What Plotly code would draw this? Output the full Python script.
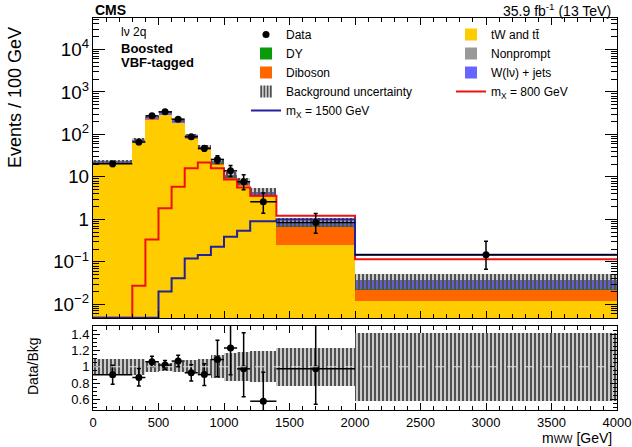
import numpy as np
import plotly.graph_objects as go
from plotly.subplots import make_subplots

# ---------------- data ----------------
edges = [0, 300, 400, 500, 600, 700, 800, 900, 1000, 1100, 1200, 1400, 2000, 4000]

tw_tt     = [21.0, 67.0, 225.0, 290.0, 186.0, 82.0, 44.0, 20.0, 9.3, 6.3, 3.3, 0.25, 0.012]
diboson   = [0.3, 1.5, 6.0, 8.0, 6.0, 3.0, 2.0, 1.0, 0.6, 0.5, 0.5, 0.42, 0.0105]
nonprompt = [0.2, 0.5, 1.0, 1.0, 0.6, 0.3, 0.2, 0.1, 0.05, 0.03, 0.02, 0.01, 0.0005]
dy        = [0.7, 1.0, 1.5, 1.5, 1.0, 0.5, 0.3, 0.1, 0.05, 0.03, 0.02, 0.005, 0.0003]
wjets     = [0.3, 6.0, 24.5, 32.5, 20.4, 9.2, 5.5, 2.5, 1.3, 1.04, 0.66, 0.185, 0.014]

bkg_rel_unc = [0.10, 0.095, 0.07, 0.05, 0.06, 0.08, 0.09, 0.14, 0.17, 0.18, 0.19, 0.235, 0.42]

data        = [20.3, 66.0, 274.0, 340.0, 229.0, 88.0, 47.0, 25.8, 13.9, 7.7, 2.6, 0.85, 0.147]
data_err_up = [2.6, 8.5, 17.0, 18.5, 15.0, 9.5, 7.0, 5.6, 4.6, 3.5, 1.6, 0.53, 0.16]
data_err_dn = [2.6, 8.0, 16.0, 18.0, 15.0, 9.5, 7.0, 5.0, 3.7, 2.7, 1.2, 0.38, 0.08]

sig_800  = [0.0, 0.0274, 0.339, 1.82, 5.85, 15.9, 21.9, 15.9, 8.7, 5.66, 3.6, 1.22, 0.115]
sig_1500 = [0.0, 0.0, 0.0, 0.02, 0.041, 0.12, 0.145, 0.227, 0.39, 0.54, 0.9, 1.0, 0.147]

x_ticks = [0, 500, 1000, 1500, 2000, 2500, 3000, 3500, 4000]
ratio_ticks = [0.6, 0.8, 1.0, 1.2, 1.4]
ratio_ref = 1.0

# ---------------- styling ----------------
FONT = "Liberation Sans, Arial, Helvetica, sans-serif"
C_TT = "#FFCC00"
C_DY = "#0A9A0A"
C_VV = "#FF6600"
C_NP = "#999999"
C_WJ = "#6666FF"
C_SIG800 = "#EE1111"
C_SIG1500 = "#22229A"

main_range = [-2.32, 4.74]
ratio_range = [0.47, 1.5]

e = np.array(edges, dtype=float)
centers = 0.5 * (e[1:] + e[:-1])
widths = e[1:] - e[:-1]

fig = make_subplots(rows=2, cols=1, shared_xaxes=False)

# stacked backgrounds (bottom -> top)
components = [
    ("tW and tt\u0304", tw_tt, C_TT, "legend2", 1),
    ("Diboson", diboson, C_VV, "legend", 3),
    ("Nonprompt", nonprompt, C_NP, "legend2", 2),
    ("DY", dy, C_DY, "legend", 2),
    ("W(l\u03bd) + jets", wjets, C_WJ, "legend2", 3),
]
cum = np.zeros(len(centers))
floor = 10 ** (main_range[0] - 1)
for name, vals, col, leg, rank in components:
    v = np.array(vals, dtype=float)
    base = np.where(cum > 0, cum, floor)
    top = cum + v
    fig.add_trace(go.Bar(x=centers, y=top - base, base=base, width=widths,
                         marker=dict(color=col, line=dict(width=0)),
                         name=name, legend=leg, legendrank=rank,
                         showlegend=True), row=1, col=1)
    cum = top

total = cum
rel = np.array(bkg_rel_unc)
band_pattern = dict(shape="|", fgcolor="#505050", bgcolor="rgba(0,0,0,0)",
                    size=4, solidity=0.65, fillmode="overlay", fgopacity=1)
fig.add_trace(go.Bar(x=centers, y=2 * rel * total, base=total * (1 - rel), width=widths,
                     marker=dict(color="rgba(0,0,0,0)", line=dict(width=0), pattern=band_pattern),
                     name="Background uncertainty", legend="legend", legendrank=4),
              row=1, col=1)

# signal step lines
ymin = 10 ** main_range[0]
for name, vals, col, leg, rank in [
    ("m<sub>X</sub> = 800 GeV", sig_800, C_SIG800, "legend2", 4),
    ("m<sub>X</sub> = 1500 GeV", sig_1500, C_SIG1500, "legend", 5),
]:
    v = np.maximum(np.array(vals, dtype=float), ymin * 1.02)
    fig.add_trace(go.Scatter(x=e, y=np.append(v, v[-1]), mode="lines",
                             line=dict(color=col, width=2, shape="hv"),
                             name=name, legend=leg, legendrank=rank), row=1, col=1)

# data
d = np.array(data)
fig.add_trace(go.Scatter(x=centers, y=d, mode="markers",
                         marker=dict(color="black", size=7),
                         error_x=dict(type="data", array=widths / 2, color="black", thickness=1.5, width=0),
                         error_y=dict(type="data", symmetric=False, array=data_err_up,
                                      arrayminus=data_err_dn, color="black", thickness=1.5, width=2),
                         name="Data", legend="legend", legendrank=1), row=1, col=1)

# ratio panel
fig.add_trace(go.Bar(x=centers, y=2 * rel, base=1 - rel, width=widths,
                     marker=dict(color="rgba(0,0,0,0)", line=dict(width=0), pattern=band_pattern),
                     showlegend=False), row=2, col=1)
ratio = d / total
fig.add_trace(go.Scatter(x=centers, y=ratio, mode="markers",
                         marker=dict(color="black", size=7),
                         error_x=dict(type="data", array=widths / 2, color="black", thickness=1.5, width=0),
                         error_y=dict(type="data", symmetric=False, array=np.array(data_err_up) / total,
                                      arrayminus=np.array(data_err_dn) / total, color="black",
                                      thickness=1.5, width=2),
                         showlegend=False), row=2, col=1)
fig.add_shape(type="line", xref="x2", yref="y2", x0=edges[0], x1=edges[-1], y0=ratio_ref, y1=ratio_ref,
              line=dict(color="#dddddd", width=1, dash="dash"), layer="above")

axis_common = dict(showline=True, linecolor="black", linewidth=1, mirror="allticks",
                   ticks="inside", tickcolor="black", showgrid=False, zeroline=False)

fig.update_xaxes(range=[edges[0], edges[-1]], tickvals=x_ticks, ticklen=7,
                 minor=dict(ticks="inside", dtick=100, ticklen=4, tickcolor="black", showgrid=False),
                 **axis_common)
fig.update_xaxes(showticklabels=False, row=1, col=1)
fig.update_xaxes(showticklabels=True, tickfont=dict(size=13, family=FONT, color="black"), row=2, col=1)

fig.update_yaxes(type="log", range=main_range, dtick=1, exponentformat="power", ticklen=12,
                 tickfont=dict(size=15, family=FONT, color="black"),
                 minor=dict(ticks="inside", ticklen=6, tickcolor="black", showgrid=False),
                 row=1, col=1, **axis_common)
fig.update_yaxes(range=ratio_range, tickvals=ratio_ticks, ticktext=["0.6", "0.8", "1", "1.2", "1.4"],
                 ticklen=7, tickfont=dict(size=13, family=FONT, color="black"),
                 minor=dict(ticks="inside", dtick=0.05, ticklen=4, tickcolor="black", showgrid=False),
                 row=2, col=1, **axis_common)

W, H = 632, 447
ml, mr, mt, mb = 93, 15, 18, 37
ph = H - mt - mb
pw = W - ml - mr


def py(pix):
    return (H - mb - pix) / ph


def px(pix):
    return (pix - ml) / pw


fig.update_layout(
    width=W, height=H,
    margin=dict(l=ml, r=mr, t=mt, b=mb, autoexpand=False),
    paper_bgcolor="white", plot_bgcolor="white",
    barmode="overlay", bargap=0,
    font=dict(family=FONT, color="black"),
    xaxis=dict(domain=[0, 1], anchor="y"),
    yaxis=dict(domain=[py(318), 1]),
    xaxis2=dict(domain=[0, 1], anchor="y2", matches="x"),
    yaxis2=dict(domain=[0, py(326)]),
    legend=dict(x=px(246), y=py(20), xanchor="left", yanchor="top", bgcolor="rgba(0,0,0,0)",
                font=dict(size=12, family=FONT), traceorder="normal", tracegroupgap=0,
                itemclick=False),
    legend2=dict(x=px(451), y=py(20), xanchor="left", yanchor="top", bgcolor="rgba(0,0,0,0)",
                 font=dict(size=12, family=FONT), traceorder="normal", tracegroupgap=0,
                 itemclick=False),
    showlegend=True,
)

annots = [
    dict(text="<b>CMS</b>", x=0, y=py(10), xanchor="left", yanchor="middle", font=dict(size=14)),
    dict(text="35.9 fb<sup>-1</sup> (13 TeV)", x=px(613), y=py(10), xanchor="right", yanchor="middle",
         font=dict(size=14)),
    dict(text="l\u03bd 2q", x=px(119), y=py(32), xanchor="left", yanchor="middle", font=dict(size=12)),
    dict(text="<b>Boosted</b>", x=px(119), y=py(48), xanchor="left", yanchor="middle", font=dict(size=13)),
    dict(text="<b>VBF-tagged</b>", x=px(119), y=py(63), xanchor="left", yanchor="middle", font=dict(size=13)),
    dict(text="Events / 100 GeV", x=px(15), y=py(98), xanchor="center", yanchor="middle", textangle=-90,
         font=dict(size=18)),
    dict(text="Data/Bkg", x=px(33), y=py(366), xanchor="center", yanchor="middle", textangle=-90,
         font=dict(size=14)),
    dict(text="m<span style='font-size:10px'>WW</span> [GeV]", x=px(613), y=py(447),
         xanchor="right", yanchor="bottom", font=dict(size=14), borderpad=0),
]
for a in annots:
    a.update(xref="paper", yref="paper", showarrow=False)
    fig.add_annotation(**a)

fig.write_html("out.html")
